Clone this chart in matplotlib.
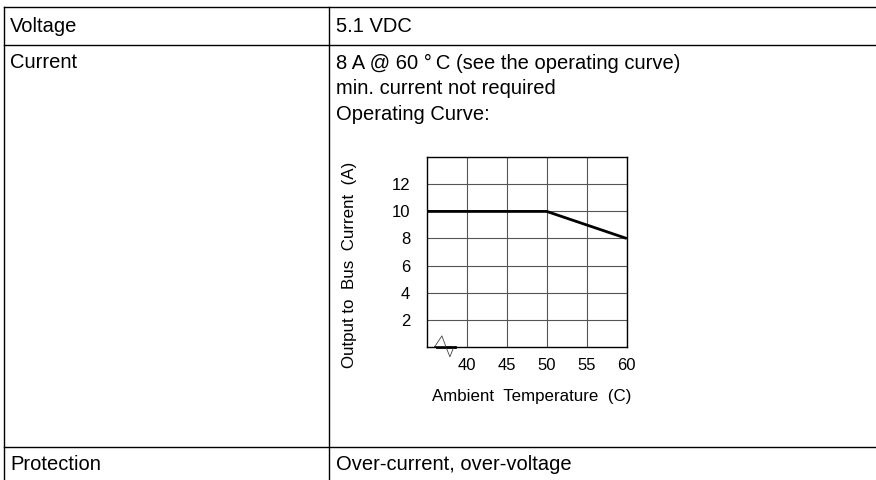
import matplotlib
matplotlib.use("Agg")
import matplotlib.pyplot as plt

plt.rcParams["font.family"] = ["Liberation Sans", "DejaVu Sans"]

# table contents
row_labels = ["Voltage", "Current", "Protection"]
voltage_text = ["5.1 VDC"]
current_text = ["8 A @ 60 \u00b0\u2009C (see the operating curve)",
                "min. current not required",
                "Operating Curve:"]
protection_text = ["Over-current, over-voltage"]

# operating curve
temp = [35, 50, 60]
current = [10, 10, 8]
xticks = [40, 45, 50, 55, 60]
yticks = [2, 4, 6, 8, 10, 12]

W, H = 876, 480
fig = plt.figure(figsize=(W / 100, H / 100), dpi=100)

# full-figure axes in pixel coords for the table
tab = fig.add_axes([0, 0, 1, 1])
tab.set_xlim(0, W)
tab.set_ylim(H, 0)
tab.axis("off")

lw = 1.0
for y in [7, 44.5, 447]:
    tab.plot([4, W], [y, y], color="black", lw=lw)
tab.plot([4, 4], [7, H], color="black", lw=lw)
tab.plot([329, 329], [7, H], color="black", lw=lw)

fs = 14.5
tab.text(10, 26, row_labels[0], fontsize=fs, va="center")
tab.text(336, 26, voltage_text[0], fontsize=fs, va="center")
tab.text(10, 63, row_labels[1], fontsize=fs, va="center")
for i, s in enumerate(current_text):
    tab.text(336, 63 + 26 * i, s, fontsize=fs, va="center")
tab.text(10, 464, row_labels[2], fontsize=fs, va="center")
tab.text(336, 464, protection_text[0], fontsize=fs, va="center")

# the operating curve chart
ax = fig.add_axes([426.7 / W, 1 - 346.7 / H, 200 / W, 189.4 / H])
ax.set_xlim(35, 60)
ax.set_ylim(0, 14)
ax.set_xticks(xticks)
ax.set_yticks(yticks)
ax.tick_params(length=0, labelsize=12)
ax.tick_params(axis="x", pad=8)
ax.tick_params(axis="y", pad=12)
ax.grid(True, color="#555555", lw=0.8)
for sp in ax.spines.values():
    sp.set_linewidth(1.0)
ax.plot(temp, current, color="black", lw=2.0, solid_capstyle="butt")

# axis break mark at the origin
ax.plot([36.25, 38.5], [0, 0], color="black", lw=2.0, clip_on=False)
ax.plot([36.0, 36.9, 37.4, 36.0], [0, 0.8, 0, 0], color="#444444",
        lw=0.6, clip_on=False)
ax.plot([37.4, 37.9, 38.4], [0, -0.75, 0], color="#444444",
        lw=0.6, clip_on=False)

ax.set_xlabel("Ambient  Temperature  (C)", fontsize=12.2, labelpad=12)
ax.set_ylabel("Output to  Bus  Current  (A)", fontsize=12.2, labelpad=25)
ax.xaxis.label.set_x(0.525)
ax.yaxis.label.set_y(0.43)

fig.savefig("out.png", dpi=100)
